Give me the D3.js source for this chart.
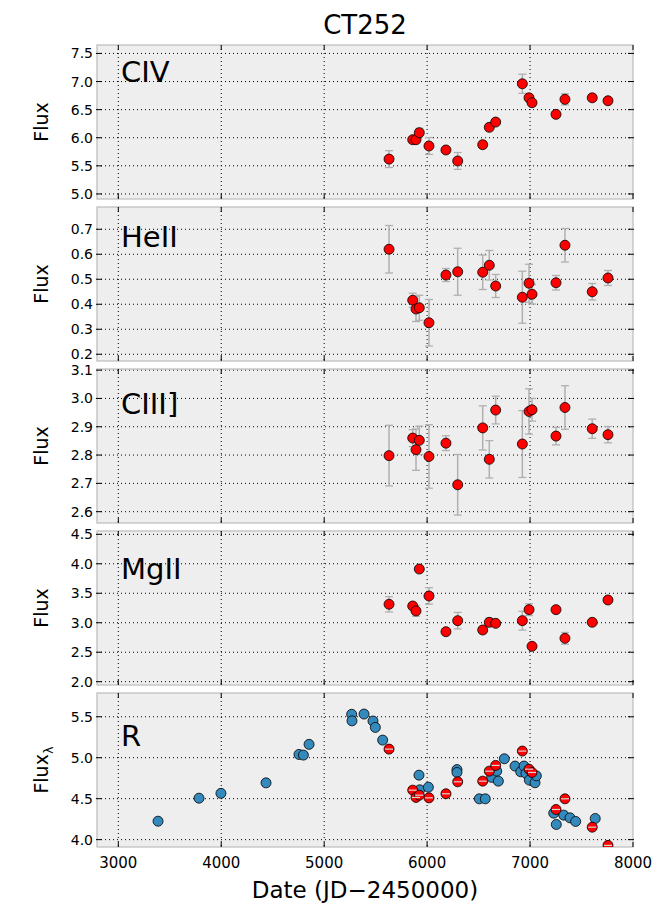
<!DOCTYPE html>
<html>
<head>
<meta charset="utf-8">
<script src="https://cdn.jsdelivr.net/npm/d3@7"></script>
<style>
  body { margin: 0; background: #fff; }
  text { font-family: "DejaVu Sans", sans-serif; }
</style>
</head>
<body>
<div id="chart"></div>
<script>
// spectroscopic epochs (shared by the emission lines and the red R points)
const specDates = [5630, 5860, 5892, 5924, 6018, 6183, 6297, 6540, 6604, 6666, 6925, 6990, 7019, 7252, 7339, 7604, 7757];

const civ = [5.62, 5.965, 5.965, 6.09, 5.853, 5.782, 5.587, 5.876, 6.185, 6.279, 6.96, 6.71, 6.623, 6.416, 6.683, 6.71, 6.658];
const civErr = [0.15, 0.05, 0.05, 0.077, 0.15, 0.03, 0.15, 0.06, 0.06, 0.04, 0.17, 0.05, 0.04, 0.03, 0.1, 0.03, 0.03];

const heii = [0.62, 0.416, 0.381, 0.386, 0.326, 0.517, 0.53, 0.528, 0.556, 0.473, 0.428, 0.484, 0.44, 0.486, 0.636, 0.45, 0.505];
const heiiErr = [0.095, 0.028, 0.05, 0.05, 0.093, 0.026, 0.094, 0.069, 0.059, 0.046, 0.104, 0.076, 0.039, 0.029, 0.067, 0.033, 0.03];

const ciii = [2.798, 2.86, 2.819, 2.852, 2.795, 2.842, 2.695, 2.896, 2.785, 2.959, 2.839, 2.954, 2.96, 2.867, 2.968, 2.893, 2.872];
const ciiiErr = [0.107, 0.03, 0.073, 0.05, 0.112, 0.026, 0.107, 0.078, 0.066, 0.049, 0.118, 0.08, 0.04, 0.031, 0.077, 0.034, 0.029];

const mgii = [3.313, 3.284, 3.2, 3.911, 3.454, 2.848, 3.035, 2.877, 3.007, 2.99, 3.035, 3.222, 2.6, 3.222, 2.736, 3.007, 3.386];
const mgiiErr = [0.13, 0.05, 0.09, 0.03, 0.14, 0.03, 0.14, 0.06, 0.07, 0.03, 0.16, 0.1, 0.05, 0.03, 0.1, 0.03, 0.03];

const rSpec = [5.105, 4.604, 4.515, 4.543, 4.51, 4.56, 4.706, 4.714, 4.836, 4.906, 5.081, 4.86, 4.82, 4.368, 4.498, 4.152, 3.93];

// photometric R band light curve
const photDates = [3386, 3784, 3997, 4435, 4755, 4798, 4853, 5267, 5270, 5387, 5474, 5497, 5568, 5921, 5928, 6012, 6290, 6290,
  6507, 6565, 6627, 6676, 6692, 6750, 6854, 6909, 6941, 6960, 6993, 7048, 7061, 7230, 7255, 7327, 7388, 7443, 7633];
const photFlux = [4.225, 4.506, 4.565, 4.693, 5.04, 5.032, 5.163, 5.53, 5.45, 5.533, 5.448, 5.37, 5.215, 4.787, 4.608, 4.64, 4.855, 4.82,
  4.498, 4.498, 4.76, 4.836, 4.714, 4.987, 4.898, 4.828, 4.898, 4.808, 4.727, 4.694, 4.779, 4.323, 4.185, 4.299, 4.266, 4.222, 4.258];

const xTicks = [3000, 4000, 5000, 6000, 7000, 8000];

const panels = [
  { name: "CIV", vals: civ, err: civErr, domain: [4.91, 7.65], ticks: [5.0, 5.5, 6.0, 6.5, 7.0, 7.5], fmt: ".1f", ylab: "Flux", labY: 37 },
  { name: "HeII", vals: heii, err: heiiErr, domain: [0.173, 0.789], ticks: [0.2, 0.3, 0.4, 0.5, 0.6, 0.7], fmt: ".1f", ylab: "Flux", labY: 40 },
  { name: "CIII]", vals: ciii, err: ciiiErr, domain: [2.56, 3.104], ticks: [2.6, 2.7, 2.8, 2.9, 3.0, 3.1], fmt: ".1f", ylab: "Flux", labY: 45 },
  { name: "MgII", vals: mgii, err: mgiiErr, domain: [1.944, 4.556], ticks: [2.0, 2.5, 3.0, 3.5, 4.0, 4.5], fmt: ".1f", ylab: "Flux", labY: 48 },
  { name: "R", vals: rSpec, err: null, domain: [3.91, 5.79], ticks: [4.0, 4.5, 5.0, 5.5], fmt: ".1f", ylab: "Fluxλ", labY: 53 }
];

const W = 661, H = 909;
const left = 97, right = 633;
const top0 = 45, step = 162, ph = 154;

const svg = d3.select("#chart").append("svg")
  .attr("width", W).attr("height", H);

const x = d3.scaleLinear().domain([2793, 8000]).range([left, right]);

svg.append("text")
  .attr("x", (left + right) / 2).attr("y", 34)
  .attr("text-anchor", "middle")
  .style("font-size", "26px")
  .text("CT252");

function errbars(g, xs, ys, es, y, color) {
  const cap = 4;
  xs.forEach((d, i) => {
    const e = es[i];
    const y1 = y(ys[i] - e), y2 = y(ys[i] + e);
    g.append("line").attr("x1", x(d)).attr("x2", x(d)).attr("y1", y1).attr("y2", y2)
      .attr("stroke", color).attr("stroke-width", 1.5);
    [y1, y2].forEach(yy => {
      g.append("line").attr("x1", x(d) - cap).attr("x2", x(d) + cap).attr("y1", yy).attr("y2", yy)
        .attr("stroke", color).attr("stroke-width", 1.3);
    });
  });
}

panels.forEach((p, k) => {
  const t = top0 + k * step;
  const y = d3.scaleLinear().domain(p.domain).range([t + ph, t]);
  const g = svg.append("g");

  // clip per panel
  const cid = "clip" + k;
  svg.append("clipPath").attr("id", cid).append("rect")
    .attr("x", left).attr("y", t).attr("width", right - left).attr("height", ph);

  g.append("rect").attr("x", left).attr("y", t).attr("width", right - left).attr("height", ph)
    .attr("fill", "#eeeeee");

  // grid
  g.selectAll(".gx").data(xTicks.filter(v => x(v) < right - 1)).enter().append("line")
    .attr("x1", d => x(d)).attr("x2", d => x(d)).attr("y1", t).attr("y2", t + ph)
    .attr("stroke", "#000").attr("stroke-width", 1).attr("stroke-dasharray", "1,3");
  g.selectAll(".gy").data(p.ticks).enter().append("line")
    .attr("x1", left).attr("x2", right).attr("y1", d => y(d)).attr("y2", d => y(d))
    .attr("stroke", "#000").attr("stroke-width", 1).attr("stroke-dasharray", "1,3");

  // frame
  g.append("rect").attr("x", left).attr("y", t).attr("width", right - left).attr("height", ph)
    .attr("fill", "none").attr("stroke", "#bcbcbc").attr("stroke-width", 1.2);

  // ticks
  const tl = 5;
  p.ticks.forEach(v => {
    g.append("line").attr("x1", left - 1).attr("x2", left + tl).attr("y1", y(v)).attr("y2", y(v)).attr("stroke", "#000");
    g.append("line").attr("x1", right - tl).attr("x2", right + 1).attr("y1", y(v)).attr("y2", y(v)).attr("stroke", "#000");
    g.append("text").attr("x", 93).attr("y", y(v) + 5)
      .attr("text-anchor", "end").style("font-size", "14px")
      .text(d3.format(p.fmt)(v));
  });
  xTicks.forEach(v => {
    g.append("line").attr("x1", x(v)).attr("x2", x(v)).attr("y1", t).attr("y2", t + tl).attr("stroke", "#000");
    g.append("line").attr("x1", x(v)).attr("x2", x(v)).attr("y1", t + ph - tl).attr("y2", t + ph).attr("stroke", "#000");
  });

  // y label
  const yl = g.append("text")
    .attr("transform", `translate(48,${t + ph / 2}) rotate(-90)`)
    .attr("text-anchor", "middle")
    .style("font-size", "19px");
  if (p.ylab === "Flux") {
    yl.text("Flux");
  } else {
    yl.append("tspan").text("Flux");
    yl.append("tspan").attr("dy", 5).style("font-size", "13px").text("λ");
  }

  // panel name
  g.append("text").attr("x", 121).attr("y", t + p.labY)
    .style("font-size", "29px").text(p.name);

  const pg = svg.append("g").attr("clip-path", `url(#${cid})`);

  if (p.err) {
    errbars(pg, specDates, p.vals, p.err, y, "#b0b0b0");
  } else {
    // photometry: blue points with small error bars
    errbars(pg, photDates, photFlux, photFlux.map(() => 0.035), y, "#b8b8b8");
    pg.selectAll(".blue").data(photDates).enter().append("circle")
      .attr("cx", d => x(d)).attr("cy", (d, i) => y(photFlux[i])).attr("r", 5)
      .attr("fill", "#348abd").attr("stroke", "#000").attr("stroke-width", 0.8);
  }

  pg.selectAll(".red").data(specDates).enter().append("circle")
    .attr("cx", d => x(d)).attr("cy", (d, i) => y(p.vals[i])).attr("r", 5)
    .attr("fill", "#ff0000").attr("stroke", "#000").attr("stroke-width", 0.8);

  if (!p.err) {
    // light bar across the red continuum points
    pg.selectAll(".rbar").data(specDates).enter().append("line")
      .attr("x1", d => x(d) - 4).attr("x2", d => x(d) + 4)
      .attr("y1", (d, i) => y(p.vals[i])).attr("y2", (d, i) => y(p.vals[i]))
      .attr("stroke", "#d8d8d8").attr("stroke-width", 1.2);
  }

  if (k === panels.length - 1) {
    xTicks.forEach(v => {
      g.append("text").attr("x", x(v)).attr("y", t + ph + 21)
        .attr("text-anchor", "middle").style("font-size", "15px").text(v);
    });
  }
});

svg.append("text")
  .attr("x", (left + right) / 2).attr("y", 898)
  .attr("text-anchor", "middle")
  .style("font-size", "23px")
  .text("Date (JD\u22122450000)");
</script>
</body>
</html>
